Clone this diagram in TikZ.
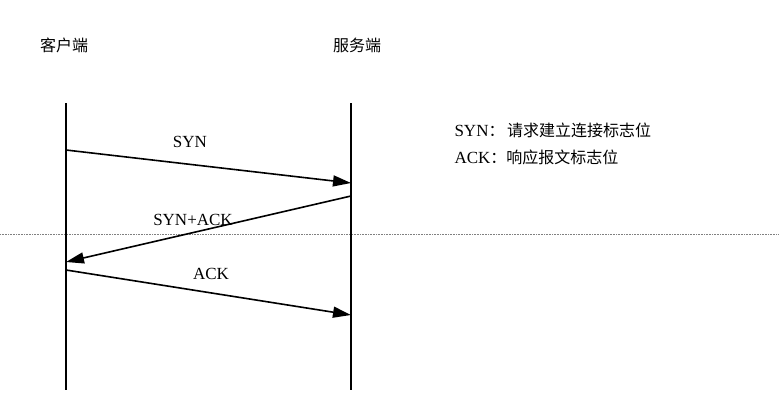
\documentclass[tikz,border=0pt]{standalone}
\usepackage{fontspec}
\setmainfont{Liberation Serif}
\newfontfamily\cjk{Noto Sans CJK SC}
\usetikzlibrary{arrows.meta}
\begin{document}
\begin{tikzpicture}[x=1pt,y=-1pt,
  life/.style={line width=1.6pt},
  msg/.style={line width=1.6pt,-{Triangle[length=18pt,width=11pt]}},
  lbl/.style={font=\fontsize{17}{19}\selectfont},
  cj/.style={font=\cjk\fontsize{16}{19}\selectfont}]
\useasboundingbox (0,0) rectangle (779,405);
\draw[gray,densely dotted,line width=0.6pt] (0,234) -- (779,234);
\node[cj] (c) at (64,45) {客户端};
\node[cj] (s) at (357,45) {服务端};
\coordinate (ct) at (66,103); \coordinate (cb) at (66,390);
\coordinate (st) at (351,103); \coordinate (sb) at (351,390);
\draw[life] (ct) -- (cb);
\draw[life] (st) -- (sb);
\coordinate (a1) at (66,150); \coordinate (b1) at (351,183);
\coordinate (a2) at (351,196); \coordinate (b2) at (66,262);
\coordinate (a3) at (66,270); \coordinate (b3) at (351,315);
\draw[msg] (a1) -- (b1);
\draw[msg] (a2) -- (b2);
\draw[msg] (a3) -- (b3);
\node[lbl] (l1) at (190,142) {SYN};
\node[lbl] (l2) at (193,220) {SYN+ACK};
\node[lbl] (l3) at (211,274) {ACK};
\node[lbl,anchor=west] (g1) at (451,130) {SYN{\cjk\fontsize{16}{19}\selectfont ：\,请求建立连接标志位}};
\node[lbl,anchor=west] (g2) at (451,157) {ACK{\cjk\fontsize{16}{19}\selectfont ：响应报文标志位}};
\end{tikzpicture}
\end{document}
